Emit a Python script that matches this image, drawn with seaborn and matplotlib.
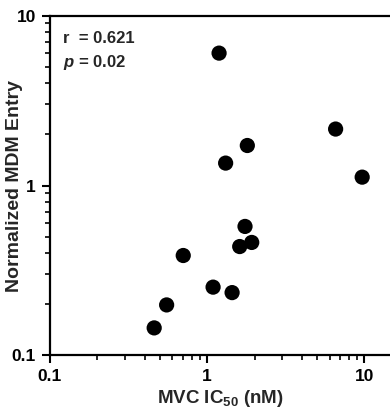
import numpy as np
import pandas as pd
import matplotlib
matplotlib.use("Agg")
import matplotlib.pyplot as plt
import matplotlib.ticker as mticker
import seaborn as sns

# values
mvc_ic50 = [1.19, 6.56, 1.80, 1.31, 9.68, 1.74, 1.61, 1.92, 0.704, 1.09, 1.44, 0.552, 0.460]
mdm_entry = [6.02, 2.15, 1.72, 1.355, 1.12, 0.574, 0.437, 0.462, 0.387, 0.252, 0.234, 0.198, 0.145]
stat_lines = ["r  = 0.621", "$p$ = 0.02"]
x_ticks = [0.1, 1, 10]
y_ticks = [0.1, 1, 10]
tick_labels = ["0.1", "1", "10"]

df = pd.DataFrame({"ic50": mvc_ic50, "entry": mdm_entry})

sns.set_style("ticks")
plt.rcParams["font.family"] = ["Liberation Sans", "DejaVu Sans"]
plt.rcParams["font.weight"] = "bold"
plt.rcParams["mathtext.fontset"] = "custom"
plt.rcParams["mathtext.rm"] = "Liberation Sans:bold"
plt.rcParams["mathtext.it"] = "Liberation Sans:italic:bold"
plt.rcParams["mathtext.bf"] = "Liberation Sans:bold"

fig = plt.figure(figsize=(3.9, 4.16), dpi=100)
ax = fig.add_axes([50 / 390, 60.7 / 416, 340 / 390, 339.6 / 416])

sns.scatterplot(data=df, x="ic50", y="entry", ax=ax, color="black",
                s=120, edgecolor="none", legend=False, zorder=3)

ax.set_xscale("log")
ax.set_yscale("log")
ax.set_xlim(0.1, 14.55)
ax.set_ylim(0.1, 10)

ax.xaxis.set_major_locator(mticker.FixedLocator(x_ticks))
ax.yaxis.set_major_locator(mticker.FixedLocator(y_ticks))
ax.xaxis.set_major_formatter(mticker.FixedFormatter(tick_labels))
ax.yaxis.set_major_formatter(mticker.FixedFormatter(tick_labels))
ax.xaxis.set_minor_locator(mticker.LogLocator(base=10, subs=np.arange(2, 10)))
ax.yaxis.set_minor_locator(mticker.LogLocator(base=10, subs=np.arange(2, 10)))
ax.xaxis.set_minor_formatter(mticker.NullFormatter())
ax.yaxis.set_minor_formatter(mticker.NullFormatter())

ax.tick_params(which="major", length=6, width=1.5, direction="out", pad=4,
               labelsize=12.5, colors="black")
ax.tick_params(which="minor", length=3.5, width=1.2, direction="out", colors="black")
for lbl in ax.get_xticklabels() + ax.get_yticklabels():
    lbl.set_fontweight("bold")

for side in ["left", "bottom", "top"]:
    ax.spines[side].set_linewidth(1.6)
    ax.spines[side].set_color("black")
ax.spines["right"].set_visible(False)

ax.set_xlabel(r"MVC IC$_{\mathrm{50}}$ (nM)", fontsize=13.5, fontweight="bold", labelpad=3)
ax.set_ylabel("Normalized MDM Entry", fontsize=14, fontweight="bold")
ax.yaxis.label.set_va("center")
ax.yaxis.set_label_coords(-0.103, 0.5)

ax.text(0.037, 0.92, stat_lines[0], transform=ax.transAxes, fontsize=12,
        fontweight="bold", va="baseline")
ax.text(0.037, 0.85, stat_lines[1], transform=ax.transAxes, fontsize=12,
        fontweight="bold", va="baseline")

fig.savefig("out.png", dpi=100)
